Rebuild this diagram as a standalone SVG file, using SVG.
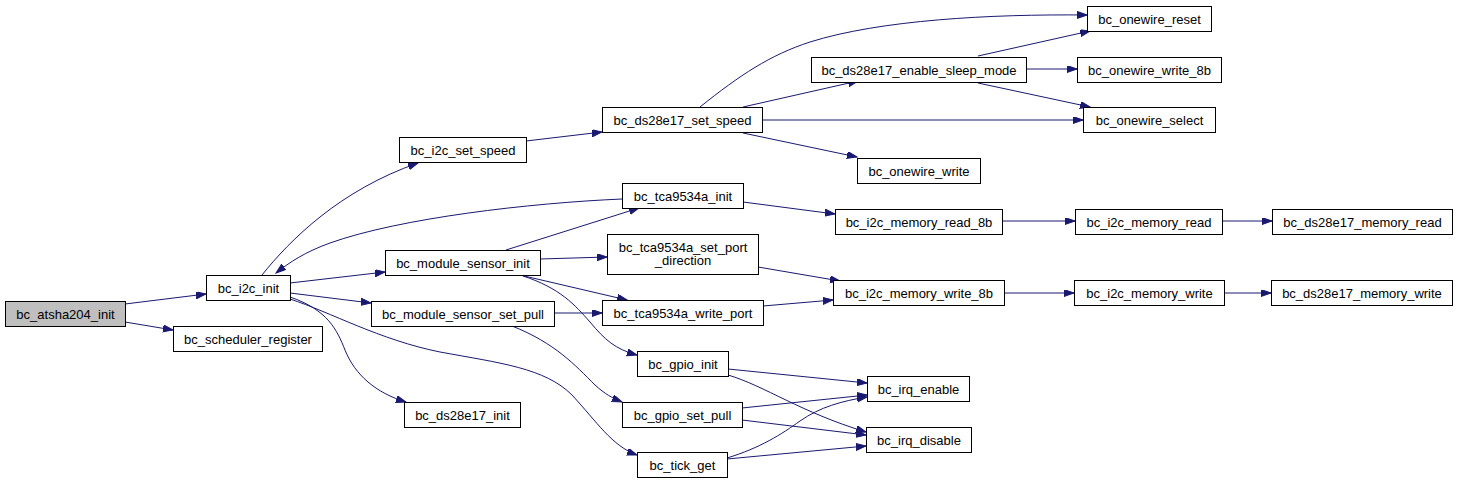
<svg xmlns="http://www.w3.org/2000/svg" width="1459" height="484" viewBox="0 0 1459 484">
<style>
.n rect{fill:#ffffff;stroke:#000000;stroke-width:1}
.n text{font-family:"Liberation Sans",Arial,sans-serif;font-size:13px;fill:#000000;text-anchor:middle}
.e path{fill:none;stroke:#191970;stroke-width:1;marker-end:url(#ah)}
</style>
<defs>
<marker id="ah" markerUnits="userSpaceOnUse" markerWidth="11" markerHeight="8" refX="10" refY="3.5" orient="auto">
<path d="M0,0 L10,3.5 L0,7 z" fill="#191970" stroke="#191970" stroke-width="1"/>
</marker>
</defs>
<rect width="1459" height="484" fill="#ffffff"/>
<g id="edges" class="e">
<path d="M125,304 L206,294"/>
<path d="M125,322 L173,330"/>
<path d="M262,275 C290,240 340,190 418,163"/>
<path d="M526,141 L602,132"/>
<path d="M622,199 C530,203 400,218 330,243 C305,252 290,262 276,273"/>
<path d="M290,283 L385,272"/>
<path d="M290,293 L371,303"/>
<path d="M506,250 L639,208"/>
<path d="M540,259 L607,257"/>
<path d="M520,275 L627,300"/>
<path d="M523,276 C560,288 575,305 590,322 C605,340 615,349 637,355"/>
<path d="M554,313 L602,313"/>
<path d="M512,326 C555,343 575,365 595,385 C605,394 612,398 622,402"/>
<path d="M290,297 C328,310 337,330 345,350 C355,375 376,393 406,402"/>
<path d="M290,299 C330,312 380,340 440,352 C500,363 545,368 572,395 C597,422 612,446 637,455"/>
<path d="M700,107 C740,75 770,55 810,42 C880,20 990,14 1087,15"/>
<path d="M743,107 L858,81"/>
<path d="M762,120 L1083,120"/>
<path d="M743,133 L857,157"/>
<path d="M978,56 L1090,31"/>
<path d="M1026,69 L1077,69"/>
<path d="M978,83 L1090,107"/>
<path d="M743,202 L835,214"/>
<path d="M758,267 L840,281"/>
<path d="M763,306 L833,300"/>
<path d="M1002,221 L1075,221"/>
<path d="M1222,221 L1272,221"/>
<path d="M1004,293 L1074,293"/>
<path d="M1224,293 L1271,293"/>
<path d="M728,369 L867,383"/>
<path d="M728,375 C765,386 800,412 866,432"/>
<path d="M742,408 L867,395"/>
<path d="M742,420 L866,435"/>
<path d="M727,458 C760,448 782,434 800,421 C820,407 842,401 867,397"/>
<path d="M727,459 L866,446"/>
</g>
<g id="n1" class="n"><rect x="5.5" y="301.5" width="120" height="25" style="fill:#bfbfbf"/><text x="65.5" y="318.5">bc_atsha204_init</text></g>
<g id="n2" class="n"><rect x="173.5" y="326.5" width="149" height="25"/><text x="248" y="343.5">bc_scheduler_register</text></g>
<g id="n3" class="n"><rect x="206.5" y="275.5" width="84" height="25"/><text x="248.5" y="292.5">bc_i2c_init</text></g>
<g id="n4" class="n"><rect x="399.5" y="137.5" width="127" height="25"/><text x="463" y="154.5">bc_i2c_set_speed</text></g>
<g id="n5" class="n"><rect x="385.5" y="250.5" width="155" height="25"/><text x="463" y="267.5">bc_module_sensor_init</text></g>
<g id="n6" class="n"><rect x="371.5" y="301.5" width="183" height="25"/><text x="463" y="318.5">bc_module_sensor_set_pull</text></g>
<g id="n7" class="n"><rect x="404.5" y="402.5" width="116" height="25"/><text x="462.5" y="419.5">bc_ds28e17_init</text></g>
<g id="n8" class="n"><rect x="637.5" y="452.5" width="90" height="25"/><text x="682.5" y="469.5">bc_tick_get</text></g>
<g id="n9" class="n"><rect x="602.5" y="107.5" width="160" height="25"/><text x="682.5" y="124.5">bc_ds28e17_set_speed</text></g>
<g id="n10" class="n"><rect x="622.5" y="183.5" width="121" height="25"/><text x="683" y="200.5">bc_tca9534a_init</text></g>
<g id="n11" class="n"><rect x="607.5" y="234.5" width="151" height="40"/><text x="683" y="251.5">bc_tca9534a_set_port</text><text x="683" y="265">_direction</text></g>
<g id="n12" class="n"><rect x="602.5" y="300.5" width="161" height="25"/><text x="683" y="317.5">bc_tca9534a_write_port</text></g>
<g id="n13" class="n"><rect x="637.5" y="351.5" width="91" height="25"/><text x="683" y="368.5">bc_gpio_init</text></g>
<g id="n14" class="n"><rect x="622.5" y="402.5" width="120" height="25"/><text x="682.5" y="419.5">bc_gpio_set_pull</text></g>
<g id="n15" class="n"><rect x="811.5" y="57.5" width="215" height="25"/><text x="919" y="74.5">bc_ds28e17_enable_sleep_mode</text></g>
<g id="n16" class="n"><rect x="857.5" y="158.5" width="123" height="25"/><text x="919" y="175.5">bc_onewire_write</text></g>
<g id="n17" class="n"><rect x="835.5" y="209.5" width="167" height="25"/><text x="919" y="226.5">bc_i2c_memory_read_8b</text></g>
<g id="n18" class="n"><rect x="833.5" y="280.5" width="171" height="25"/><text x="919" y="297.5">bc_i2c_memory_write_8b</text></g>
<g id="n19" class="n"><rect x="867.5" y="376.5" width="102" height="25"/><text x="918.5" y="393.5">bc_irq_enable</text></g>
<g id="n20" class="n"><rect x="866.5" y="427.5" width="105" height="25"/><text x="919" y="444.5">bc_irq_disable</text></g>
<g id="n21" class="n"><rect x="1087.5" y="6.5" width="124" height="25"/><text x="1149.5" y="23.5">bc_onewire_reset</text></g>
<g id="n22" class="n"><rect x="1077.5" y="57.5" width="144" height="25"/><text x="1149.5" y="74.5">bc_onewire_write_8b</text></g>
<g id="n23" class="n"><rect x="1083.5" y="107.5" width="132" height="25"/><text x="1149.5" y="124.5">bc_onewire_select</text></g>
<g id="n24" class="n"><rect x="1075.5" y="209.5" width="147" height="25"/><text x="1149" y="226.5">bc_i2c_memory_read</text></g>
<g id="n25" class="n"><rect x="1074.5" y="280.5" width="150" height="25"/><text x="1149.5" y="297.5">bc_i2c_memory_write</text></g>
<g id="n26" class="n"><rect x="1272.5" y="209.5" width="180" height="25"/><text x="1362.5" y="226.5">bc_ds28e17_memory_read</text></g>
<g id="n27" class="n"><rect x="1271.5" y="280.5" width="181" height="25"/><text x="1362" y="297.5">bc_ds28e17_memory_write</text></g>
</svg>
